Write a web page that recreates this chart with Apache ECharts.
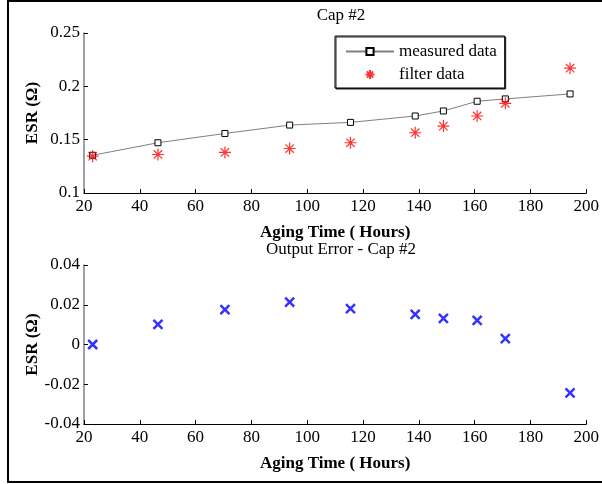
<!DOCTYPE html>
<html>
<head>
<meta charset="utf-8">
<script src="https://cdn.jsdelivr.net/npm/echarts@6/dist/echarts.min.js"></script>
<style>
html,body{margin:0;padding:0;background:#fff;}
#c{width:602px;height:484px;}
</style>
</head>
<body>
<div id="c"></div>
<script>
// Data
const hours    = [23.1, 46.5, 70.5, 93.7, 115.5, 138.7, 148.8, 160.9, 171.0, 194.2];
const measured = [0.1354, 0.1471, 0.1558, 0.1637, 0.1662, 0.1722, 0.1769, 0.1860, 0.1882, 0.1929];
const filtered = [0.1345, 0.1361, 0.1380, 0.1417, 0.1471, 0.1565, 0.1627, 0.1722, 0.1841, 0.2170];
const outErr   = [0.0000, 0.0101, 0.0176, 0.0213, 0.0181, 0.0151, 0.0131, 0.0121, 0.0029, -0.0243];
const topTitle = 'Cap #2';
const bottomTitle = 'Output Error - Cap #2';
const xName = 'Aging Time ( Hours)';
const yName = 'ESR (\u03A9)';
const legendNames = ['measured data', 'filter data'];

const pair = (xs, ys) => xs.map((x, i) => [x, ys[i]]);
const FONT = 'Liberation Serif';

const asterisk = 'path://M0,-10L0,10M-10,0L10,0M-7,-7L7,7M-7,7L7,-7';
const cross = 'path://M-10,-10L10,10M-10,10L10,-10';

function xAxisDef(gridIndex) {
  return {
    type: 'value', gridIndex, min: 20, max: 200, interval: 20,
    name: xName, nameLocation: 'middle', nameGap: 31, nameMoveOverlap: false,
    nameTextStyle: {fontFamily: FONT, fontSize: 17, fontWeight: 'bold', color: '#000'},
    axisLine: {show: true, onZero: false, lineStyle: {color: '#000', width: 1}},
    axisTick: {show: true, inside: true, length: 4, lineStyle: {color: '#000'}},
    axisLabel: {fontFamily: FONT, fontSize: 17, color: '#000', margin: 5, showMaxLabel: true, showMinLabel: true},
    splitLine: {show: false}
  };
}
function yAxisDef(gridIndex, min, max, interval) {
  return {
    type: 'value', gridIndex, min, max, interval,
    name: yName, nameLocation: 'middle', nameGap: 43, nameMoveOverlap: false,
    nameTextStyle: {fontFamily: FONT, fontSize: 17, fontWeight: 'bold', color: '#000'},
    axisLine: {show: true, onZero: false, lineStyle: {color: '#808080', width: 1.5}},
    axisTick: {show: true, inside: true, length: 4, lineStyle: {color: '#000'}},
    axisLabel: {fontFamily: FONT, fontSize: 17, color: '#000', margin: 4},
    splitLine: {show: false}
  };
}

const chart = echarts.init(document.getElementById('c'), null, {renderer: 'canvas'});
chart.setOption({
  animation: false,
  backgroundColor: '#fff',
  title: [
    {text: topTitle, left: 336, top: 2, textAlign: 'center',
     textStyle: {fontFamily: FONT, fontSize: 17, fontWeight: 'normal', color: '#000'}},
    {text: bottomTitle, left: 336, top: 236, textAlign: 'center',
     textStyle: {fontFamily: FONT, fontSize: 17, fontWeight: 'normal', color: '#000'}}
  ],
  legend: {
    data: legendNames,
    orient: 'vertical',
    left: 335, top: 36,
    width: 170,
    itemWidth: 48, itemHeight: 9, itemGap: 6,
    padding: [7, 8, 5, 10],
    borderColor: '#000', borderWidth: 1,
    backgroundColor: '#fff',
    shadowColor: '#222', shadowOffsetX: 1, shadowOffsetY: 1, shadowBlur: 0,
    textStyle: {fontFamily: FONT, fontSize: 17, color: '#000'}
  },
  grid: [
    {left: 84, top: 33, width: 505, height: 160},
    {left: 84, top: 265, width: 505, height: 159}
  ],
  xAxis: [xAxisDef(0), xAxisDef(1)],
  yAxis: [yAxisDef(0, 0.1, 0.25, 0.05), yAxisDef(1, -0.04, 0.04, 0.02)],
  graphic: [{
    type: 'rect', silent: true, z: 100,
    shape: {x: 8, y: 1, width: 620, height: 481},
    style: {fill: 'none', stroke: '#000', lineWidth: 2}
  }],
  series: [
    {
      name: legendNames[0], type: 'line', xAxisIndex: 0, yAxisIndex: 0,
      data: pair(hours, measured),
      symbol: 'rect', symbolSize: 6, showAllSymbol: true,
      lineStyle: {color: '#808080', width: 1},
      itemStyle: {color: '#fff', borderColor: '#000', borderWidth: 1},
      z: 2
    },
    {
      name: legendNames[1], type: 'scatter', xAxisIndex: 0, yAxisIndex: 0,
      data: pair(hours, filtered),
      symbol: asterisk, symbolSize: 12,
      itemStyle: {color: 'rgba(0,0,0,0)', borderColor: '#ff0000', borderWidth: 1.2},
      z: 3
    },
    {
      name: 'error', type: 'scatter', xAxisIndex: 1, yAxisIndex: 1,
      data: pair(hours, outErr),
      symbol: cross, symbolSize: 9,
      itemStyle: {color: 'rgba(0,0,0,0)', borderColor: '#0000ff', borderWidth: 2.5}
    }
  ]
});
</script>
</body>
</html>
